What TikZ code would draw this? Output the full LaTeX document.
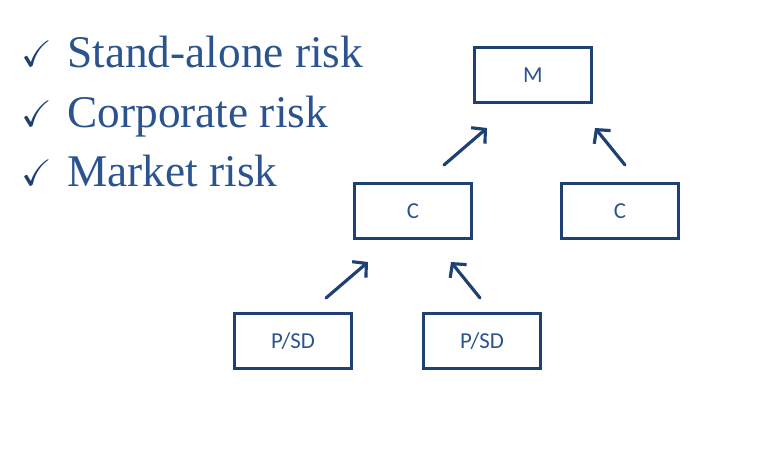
\documentclass[tikz,border=0pt]{standalone}
\usepackage{amsmath,amssymb}
\usepackage{fontspec}
\setmainfont{Liberation Serif}
\newfontfamily\boxfont{Carlito}
\usetikzlibrary{calc,positioning,arrows.meta}
\definecolor{navy}{RGB}{31,64,114}
\definecolor{riskblue}{RGB}{43,84,143}

\begin{document}
\begin{tikzpicture}[x=0.02cm, y=-0.02cm,
  level/.style={rectangle, draw=navy, line width=1.7pt,
    minimum width=2.34cm, minimum height=1.1cm,
    font=\boxfont\fontsize{13}{15}\selectfont, text=riskblue, inner sep=0pt},
  bullet/.style={anchor=base west, font=\fontsize{25.8}{28}\selectfont,
    text=riskblue, inner sep=0pt},
  tick/.style={anchor=base west, font=\fontsize{21}{24}\selectfont,
    text=navy, inner sep=0pt},
  up/.style={draw=navy, line width=1.8pt, line cap=round,
    -{Straight Barb[length=5.5pt, width=12pt, line width=1.8pt]}},
]
  \useasboundingbox (0,0) rectangle (763,451);

  % === Risk list (left) ===
  \node[tick]   (t1) at (21,66)  {$\checkmark$};
  \node[bullet] (r1) at (67,67)  {Stand-alone risk};
  \node[tick]   (t2) at (21,126) {$\checkmark$};
  \node[bullet] (r2) at (67,127) {Corporate risk};
  \node[tick]   (t3) at (21,185) {$\checkmark$};
  \node[bullet] (r3) at (67,186) {Market risk};

  % === Boxes ===
  \node[level] (mkt)  at (533,75)  {M};
  \node[level] (corL) at (413,211) {C};
  \node[level] (corR) at (620,211) {C};
  \node[level] (psdL) at (293,341) {P/SD};
  \node[level] (psdR) at (482,341) {P/SD};

  % === Arrow ends ===
  \coordinate (a1) at (444,165);  \coordinate (b1) at (487,128);
  \coordinate (a2) at (625,165);  \coordinate (b2) at (595,128);
  \coordinate (a3) at (326,298);  \coordinate (b3) at (368,262);
  \coordinate (a4) at (480,298);  \coordinate (b4) at (451,262);

  % === Arrows ===
  \draw[up] (a1) -- (b1);
  \draw[up] (a2) -- (b2);
  \draw[up] (a3) -- (b3);
  \draw[up] (a4) -- (b4);

\end{tikzpicture}
\end{document}
